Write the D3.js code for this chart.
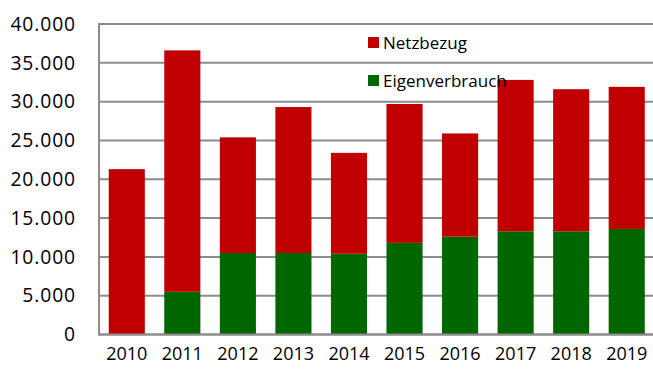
<!DOCTYPE html>
<html>
<head>
<meta charset="utf-8">
<script src="https://cdn.jsdelivr.net/npm/d3@7"></script>
<style>
  html, body { margin: 0; padding: 0; background: #fff; }
  svg { display: block; font-family: "Open Sans", sans-serif; }
</style>
</head>
<body>
<svg id="chart" width="653" height="372"></svg>
<script>
// Annual electricity: own consumption (Eigenverbrauch) and grid supply (Netzbezug)
const years = ["2010", "2011", "2012", "2013", "2014", "2015", "2016", "2017", "2018", "2019"];
const eigenverbrauch = [0, 5500, 10500, 10500, 10400, 11800, 12600, 13300, 13300, 13600];
const netzbezug = [21300, 31100, 14900, 18800, 13000, 17900, 13300, 19500, 18300, 18300];
const yTicks = [0, 5000, 10000, 15000, 20000, 25000, 30000, 35000, 40000];
const seriesNames = ["Eigenverbrauch", "Netzbezug"];
const seriesColors = ["#006600", "#c00000"];

const svg = d3.select("#chart");
const plotLeft = 99, plotRight = 654.5, plotTop = 24, plotBottom = 334.5;

const x = d3.scaleBand().domain(years).range([plotLeft, plotRight])
  .paddingInner(0.35).paddingOuter(0.175);
const y = d3.scaleLinear().domain([0, 40000]).range([plotBottom, plotTop]);

const fmt = v => d3.format(",")(v).replace(/,/g, ".");

// horizontal gridlines
svg.append("g").selectAll("line").data(yTicks).join("line")
  .attr("x1", plotLeft).attr("x2", 653)
  .attr("y1", d => y(d)).attr("y2", d => y(d))
  .attr("stroke", "#8c8c8c").attr("stroke-width", 2);

// y axis labels
const yAxis = d3.axisLeft(y).tickValues(yTicks).tickFormat(fmt).tickSize(0).tickPadding(23);
svg.append("g").attr("transform", `translate(${plotLeft},0)`).call(yAxis)
  .call(g => g.select(".domain").remove())
  .call(g => g.selectAll("text").attr("font-size", 19.3).attr("letter-spacing", 0.9)
    .attr("fill", "#000").attr("font-family", "'Open Sans', sans-serif"));

// stacked bars
const rows = years.map((yr, i) => ({ year: yr, Eigenverbrauch: eigenverbrauch[i], Netzbezug: netzbezug[i] }));
const stack = d3.stack().keys(seriesNames)(rows);
svg.append("g").selectAll("g").data(stack).join("g")
  .attr("fill", (d, i) => seriesColors[i])
  .selectAll("rect").data(d => d).join("rect")
  .attr("x", d => x(d.data.year))
  .attr("width", x.bandwidth())
  .attr("y", d => y(d[1]))
  .attr("height", d => y(d[0]) - y(d[1]));

// axis frame lines
svg.append("line").attr("x1", plotLeft).attr("x2", plotLeft).attr("y1", plotTop - 1).attr("y2", plotBottom + 1)
  .attr("stroke", "#8c8c8c").attr("stroke-width", 2);
svg.append("line").attr("x1", plotLeft).attr("x2", 653).attr("y1", plotBottom).attr("y2", plotBottom)
  .attr("stroke", "#8c8c8c").attr("stroke-width", 2);

// x axis labels
const xAxis = d3.axisBottom(x).tickSize(0).tickPadding(13);
svg.append("g").attr("transform", `translate(0,${plotBottom})`).call(xAxis)
  .call(g => g.select(".domain").remove())
  .call(g => g.selectAll("text").attr("font-size", 18).attr("fill", "#000")
    .attr("font-family", "'Open Sans', sans-serif"));

// legend
const legendItems = [
  { name: "Netzbezug", color: seriesColors[1], y: 43 },
  { name: "Eigenverbrauch", color: seriesColors[0], y: 81 }
];
const lg = svg.append("g").selectAll("g").data(legendItems).join("g")
  .attr("transform", d => `translate(368,${d.y})`);
lg.append("rect").attr("x", 0).attr("y", -6).attr("width", 11).attr("height", 11)
  .attr("fill", d => d.color);
lg.append("text").attr("x", 15).attr("y", 0).attr("dy", "0.35em")
  .attr("font-size", 17).attr("fill", "#000").text(d => d.name);
</script>
</body>
</html>
